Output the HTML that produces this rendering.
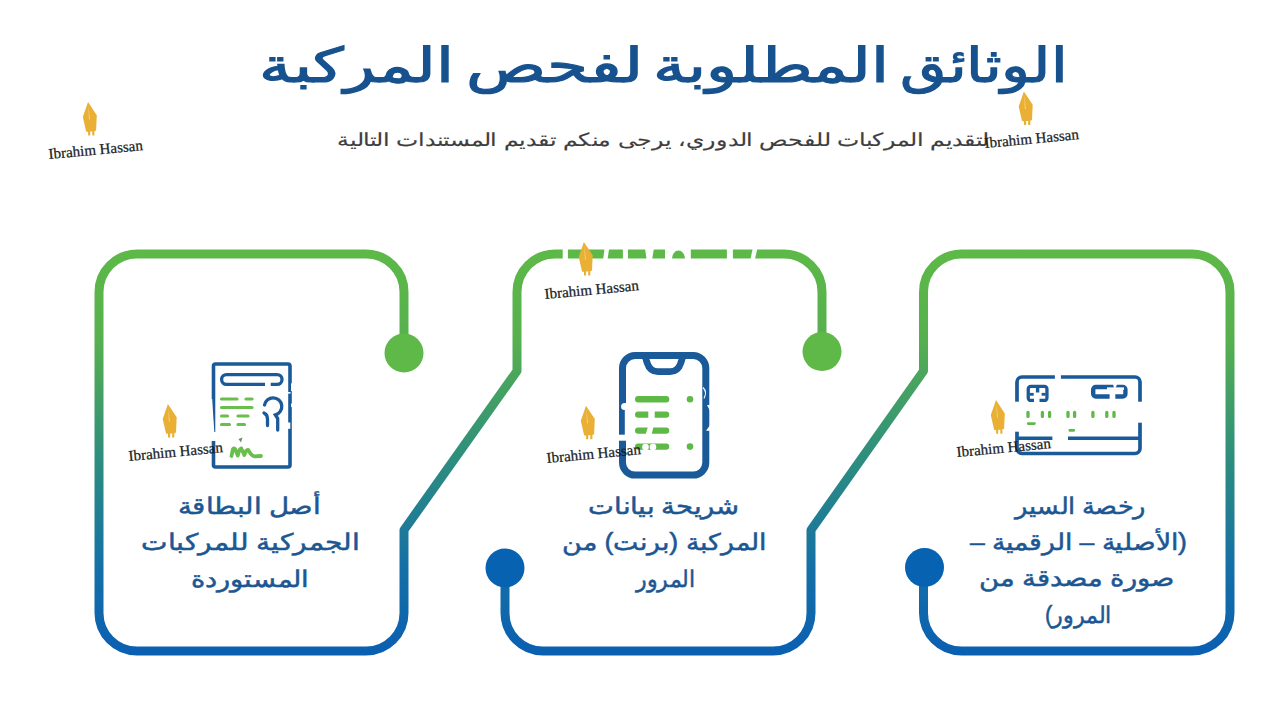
<!DOCTYPE html>
<html lang="ar">
<head>
<meta charset="utf-8">
<title>الوثائق المطلوبة لفحص المركبة</title>
<style>
html,body{margin:0;padding:0;background:#fff;}
body{width:1280px;height:704px;position:relative;overflow:hidden;font-family:"Liberation Sans",sans-serif;}
.t{position:absolute;white-space:nowrap;direction:rtl;transform-origin:0 0;line-height:normal;}
svg.bg{position:absolute;left:0;top:0;}
.wm{position:absolute;white-space:nowrap;font-family:"Liberation Serif",serif;font-size:15px;color:#1c1c1c;-webkit-text-stroke:0.25px #1c1c1c;transform-origin:0 0;line-height:17px;}
</style>
</head>
<body>
<svg class="bg" width="1280" height="704" viewBox="0 0 1280 704">
<defs>
<linearGradient id="g" gradientUnits="userSpaceOnUse" x1="0" y1="250" x2="0" y2="656">
<stop offset="0" stop-color="#5DB947"/>
<stop offset="0.22" stop-color="#57B04F"/>
<stop offset="0.5" stop-color="#2F8F7C"/>
<stop offset="0.78" stop-color="#1570A6"/>
<stop offset="1" stop-color="#0A5FB2"/>
</linearGradient>
</defs>
<g fill="none" stroke="url(#g)" stroke-width="9" stroke-linejoin="round">
<path d="M404 352 L404 292 A38 38 0 0 0 366 254 L137 254 A38 38 0 0 0 99 292 L99 613 A38 38 0 0 0 137 651 L366 651 A38 38 0 0 0 404 613 L404 530 L517 371 L517 292 A38 38 0 0 1 555 254 L784 254 A38 38 0 0 1 822 292 L822 352"/>
<path d="M505 568 L505 613 A38 38 0 0 0 543 651 L773 651 A38 38 0 0 0 811 613 L811 530 L923.5 371 L923.5 292 A38 38 0 0 1 961.5 254 L1192 254 A38 38 0 0 1 1230 292 L1230 613 A38 38 0 0 1 1192 651 L961.5 651 A38 38 0 0 1 923.5 613 L923.5 568"/>
</g>
<circle cx="404" cy="353" r="19.5" fill="#5FB948"/>
<circle cx="822" cy="351.6" r="19.5" fill="#5FB948"/>
<circle cx="505" cy="568" r="19.5" fill="#0763B2"/>
<circle cx="924.5" cy="567.5" r="19.5" fill="#0763B2"/>
<g id="doc">
<rect x="213.5" y="364" width="76.5" height="103" rx="2" fill="none" stroke="#1B5A99" stroke-width="3.6"/>
<rect x="221.6" y="374.6" width="60.4" height="9.8" rx="4.9" fill="none" stroke="#1B5A99" stroke-width="3.3"/>
<rect x="265" y="381" width="5.7" height="6" fill="#fff"/>
<g stroke="#6ABE4B" stroke-width="3.2" stroke-linecap="round" fill="none">
<path d="M221.5 399H237M246 399H252M221.5 407.5H252M221.5 416H227.5M238 416H248M221.5 424.5H229.5M238 424.5H244.5"/>
<path d="M231.5 456L232.8 449.5Q234.5 446.5 236.3 452L237.8 455.5Q239.3 448.8 241.3 448.5L244.3 455Q246.3 449 248.3 450Q251.3 456 254.5 456.3L261 456" stroke-width="3.8" stroke-linejoin="round"/>
</g>
<path d="M238.5 439L242.5 437.5L241 442.5Z" fill="#6C8F66"/>
<g fill="none" stroke="#1B5A99" stroke-width="3.3" stroke-linecap="round">
<path d="M264.5 405A8.7 8.7 0 1 1 275.4 414.9L277.7 418.5L277.7 430"/>
<path d="M264 413Q267.5 414.5 267.5 419L267.5 425.5"/>
</g>
<!-- white artifacts on doc -->
<g fill="#fff">
<rect x="291" y="383.4" width="3" height="7.6"/>
<rect x="287.9" y="392" width="2.6" height="1.6"/>
<rect x="291" y="403.7" width="3" height="3.3"/>
<rect x="287.9" y="422.5" width="2.4" height="6.3"/>
<path d="M210 399H212.2L214.3 432H210Z"/>
<rect x="210" y="432" width="7" height="9"/>
</g>
</g>
<g id="phone">
<rect x="622.5" y="355.5" width="83.3" height="119.6" rx="12.6" fill="none" stroke="#1B5A99" stroke-width="7"/>
<path d="M645 356L647.2 363Q650 371.7 658 371.7L670 371.7Q678 371.7 680.8 363L683 356" fill="none" stroke="#1B5A99" stroke-width="6.8" stroke-linejoin="round"/>
<g stroke="#5EB947" stroke-width="6.4" stroke-linecap="round">
<path d="M638.2 399.2H666.1M638.2 414.6H666.1M638.2 430.6H666.1M638.2 446.6H666.1"/>
</g>
<g fill="#5EB947"><circle cx="690" cy="399.2" r="3.3"/><circle cx="690" cy="446.6" r="3.3"/></g>
<g fill="#fff">
<rect x="618" y="434.7" width="10" height="6"/>
<circle cx="624.6" cy="406.6" r="3.5"/>
<rect x="624.8" y="410" width="2.6" height="25"/>
<rect x="648.3" y="410" width="6.4" height="9"/>
<path d="M648 426.5L653.5 426.5L651.5 435L645.5 435Z"/>
<circle cx="645.5" cy="447" r="3.3"/>
<circle cx="653" cy="447" r="3.3"/>
<path d="M707 405L710.2 405L710.2 411Z"/>
<path d="M706 430.8L710.2 425L710.2 430.8Z"/>
</g>
</g>
<path d="M703 387.5Q707.5 392 704 398.5" fill="none" stroke="#fff" stroke-width="1.1"/>
<g id="card">
<rect x="1017" y="377" width="123" height="76.5" rx="5" fill="none" stroke="#1B5A99" stroke-width="3.7"/>
<rect x="1028.25" y="386.45" width="18.7" height="14" rx="2.5" fill="none" stroke="#1B5A99" stroke-width="3.3"/>
<g fill="#1B5A99">
<rect x="1035.9" y="387" width="3.4" height="5.5"/>
<rect x="1029.5" y="392.9" width="4.2" height="2.8"/>
<rect x="1041.6" y="392.9" width="4" height="2.8"/>
</g>
<rect x="1034" y="398" width="5.5" height="5" fill="#fff"/>
<rect x="1093.2" y="387" width="32.2" height="9.5" rx="2.5" fill="none" stroke="#1B5A99" stroke-width="4.4"/>
<g fill="#fff">
<rect x="1109.6" y="393.5" width="5.7" height="6"/>
<rect x="1107" y="387.4" width="17" height="2.4"/>
<path d="M1113 384H1117.2L1115.5 388H1114Z"/>
</g>
<path d="M1017 438.3H1140" stroke="#1B5A99" stroke-width="3.6"/>
<g fill="#fff">
<rect x="1054.9" y="373" width="6" height="7"/>
<rect x="1013" y="401.7" width="8" height="30"/>
<rect x="1136" y="401.7" width="8" height="21"/>
<rect x="1052.4" y="435" width="15.6" height="7"/>
</g>
<g stroke="#5EB947" stroke-width="3.3" stroke-linecap="round">
<path d="M1028 412.4V416.4M1042.4 412.4V416.4M1049.6 412.4V416.4M1068 412.4V416.4M1074.6 412.4V416.4M1092.9 412.4V416.4M1106.8 412.4V416.4M1114 412.4V416.4"/>
<path d="M1028.2 423.6H1034.4M1069.8 430.3H1073.8" stroke-width="2.8"/>
</g>
</g>
<!-- white gaps across top of middle frame -->
<g fill="#fff">
<rect x="562.7" y="248" width="5.2" height="11"/>
<path d="M604.6 248H609.2L607.6 259H603.2Z"/>
<rect x="622.9" y="248" width="5.1" height="11"/>
<path d="M645 248H654L652.2 259H646.5Z"/>
<path d="M665 248H690.8V259H685A6.5 8.5 0 0 0 672 259H665Z"/>
<rect x="726.9" y="248" width="6" height="11"/>
<path d="M752.8 248H757.5L755 259H750.5Z"/>
</g>

<g transform="translate(82.8 102)"><path d="M5.2 0L14 13.3L13.3 28.6L11.6 29.2L11.6 33.6L9.5 33.6L9.5 29.6L7.4 29.6L7.4 33.6L5.3 33.6L5.3 29.8L3.4 29.8L0 15Z" fill="#E9B035"/><path d="M5.3 3L7.3 17.5L6.2 17.5Z" fill="#F7D27C"/></g>
<g transform="translate(1018.7 91.5)"><path d="M5.2 0L14 13.3L13.3 28.6L11.6 29.2L11.6 33.6L9.5 33.6L9.5 29.6L7.4 29.6L7.4 33.6L5.3 33.6L5.3 29.8L3.4 29.8L0 15Z" fill="#E9B035"/><path d="M5.3 3L7.3 17.5L6.2 17.5Z" fill="#F7D27C"/></g>
<g transform="translate(578.7 242)"><path d="M5.2 0L14 13.3L13.3 28.6L11.6 29.2L11.6 33.6L9.5 33.6L9.5 29.6L7.4 29.6L7.4 33.6L5.3 33.6L5.3 29.8L3.4 29.8L0 15Z" fill="#E9B035"/><path d="M5.3 3L7.3 17.5L6.2 17.5Z" fill="#F7D27C"/></g>
<g transform="translate(162.7 404)"><path d="M5.2 0L14 13.3L13.3 28.6L11.6 29.2L11.6 33.6L9.5 33.6L9.5 29.6L7.4 29.6L7.4 33.6L5.3 33.6L5.3 29.8L3.4 29.8L0 15Z" fill="#E9B035"/><path d="M5.3 3L7.3 17.5L6.2 17.5Z" fill="#F7D27C"/></g>
<g transform="translate(580.8 405.7)"><path d="M5.2 0L14 13.3L13.3 28.6L11.6 29.2L11.6 33.6L9.5 33.6L9.5 29.6L7.4 29.6L7.4 33.6L5.3 33.6L5.3 29.8L3.4 29.8L0 15Z" fill="#E9B035"/><path d="M5.3 3L7.3 17.5L6.2 17.5Z" fill="#F7D27C"/></g>
<g transform="translate(990.8 400.1)"><path d="M5.2 0L14 13.3L13.3 28.6L11.6 29.2L11.6 33.6L9.5 33.6L9.5 29.6L7.4 29.6L7.4 33.6L5.3 33.6L5.3 29.8L3.4 29.8L0 15Z" fill="#E9B035"/><path d="M5.3 3L7.3 17.5L6.2 17.5Z" fill="#F7D27C"/></g>
</svg>
<div class="t" style="left:259.37px;top:36.70px;font-size:48px;font-weight:normal;color:#17528F;-webkit-text-stroke:1.2px #17528F;transform:scaleX(1.3446)">المركبة</div>
<div class="t" style="left:465.54px;top:36.70px;font-size:48px;font-weight:normal;color:#17528F;-webkit-text-stroke:1.2px #17528F;transform:scaleX(1.3805)">لفحص</div>
<div class="t" style="left:652.96px;top:36.70px;font-size:48px;font-weight:normal;color:#17528F;-webkit-text-stroke:1.2px #17528F;transform:scaleX(1.3473)">المطلوبة</div>
<div class="t" style="left:900.10px;top:36.70px;font-size:48px;font-weight:normal;color:#17528F;-webkit-text-stroke:1.2px #17528F;transform:scaleX(1.2488)">الوثائق</div>
<div class="t" style="left:337.29px;top:128.80px;font-size:18px;font-weight:normal;color:#3E3E3E;-webkit-text-stroke:0.15px #3E3E3E;transform:scaleX(1.3119)">لتقديم المركبات للفحص الدوري، يرجى منكم تقديم المستندات التالية</div>
<div class="t" style="left:177.55px;top:493.00px;font-size:23px;font-weight:normal;color:#1C5792;-webkit-text-stroke:0.5px #1C5792;transform:scaleX(1.2021)">أصل البطاقة</div>
<div class="t" style="left:140.78px;top:529.30px;font-size:23px;font-weight:normal;color:#1C5792;-webkit-text-stroke:0.5px #1C5792;transform:scaleX(1.2216)">الجمركية للمركبات</div>
<div class="t" style="left:190.81px;top:566.00px;font-size:23px;font-weight:normal;color:#1C5792;-webkit-text-stroke:0.5px #1C5792;transform:scaleX(1.1856)">المستوردة</div>
<div class="t" style="left:587.80px;top:493.00px;font-size:23px;font-weight:normal;color:#1C5792;-webkit-text-stroke:0.5px #1C5792;transform:scaleX(1.1952)">شريحة بيانات</div>
<div class="t" style="left:561.63px;top:529.30px;font-size:23px;font-weight:normal;color:#1C5792;-webkit-text-stroke:0.5px #1C5792;transform:scaleX(1.1653)">المركبة (برنت) من</div>
<div class="t" style="left:635.56px;top:566.00px;font-size:23px;font-weight:normal;color:#1C5792;-webkit-text-stroke:0.5px #1C5792;transform:scaleX(0.9574)">المرور</div>
<div class="t" style="left:1014.51px;top:492.70px;font-size:23px;font-weight:normal;color:#1C5792;-webkit-text-stroke:0.5px #1C5792;transform:scaleX(1.1111)">رخصة السير</div>
<div class="t" style="left:970.00px;top:528.80px;font-size:23px;font-weight:normal;color:#1C5792;-webkit-text-stroke:0.5px #1C5792;transform:scaleX(1.1570)">(الأصلية – الرقمية –</div>
<div class="t" style="left:979.31px;top:565.40px;font-size:23px;font-weight:normal;color:#1C5792;-webkit-text-stroke:0.5px #1C5792;transform:scaleX(1.1901)">صورة مصدقة من</div>
<div class="t" style="left:1045.04px;top:601.60px;font-size:23px;font-weight:normal;color:#1C5792;-webkit-text-stroke:0.5px #1C5792;transform:scaleX(0.9642)">المرور)</div>
<div class="wm" style="left:49.0px;top:145.8px;transform-origin:1px 13px;transform:rotate(-5.5deg)">Ibrahim Hassan</div>
<div class="wm" style="left:984.9px;top:135.3px;transform-origin:1px 13px;transform:rotate(-5.5deg)">Ibrahim Hassan</div>
<div class="wm" style="left:544.9px;top:285.8px;transform-origin:1px 13px;transform:rotate(-5.5deg)">Ibrahim Hassan</div>
<div class="wm" style="left:128.9px;top:447.8px;transform-origin:1px 13px;transform:rotate(-5.5deg)">Ibrahim Hassan</div>
<div class="wm" style="left:547.0px;top:449.5px;transform-origin:1px 13px;transform:rotate(-5.5deg)">Ibrahim Hassan</div>
<div class="wm" style="left:957.0px;top:443.9px;transform-origin:1px 13px;transform:rotate(-5.5deg)">Ibrahim Hassan</div>
</body>
</html>
